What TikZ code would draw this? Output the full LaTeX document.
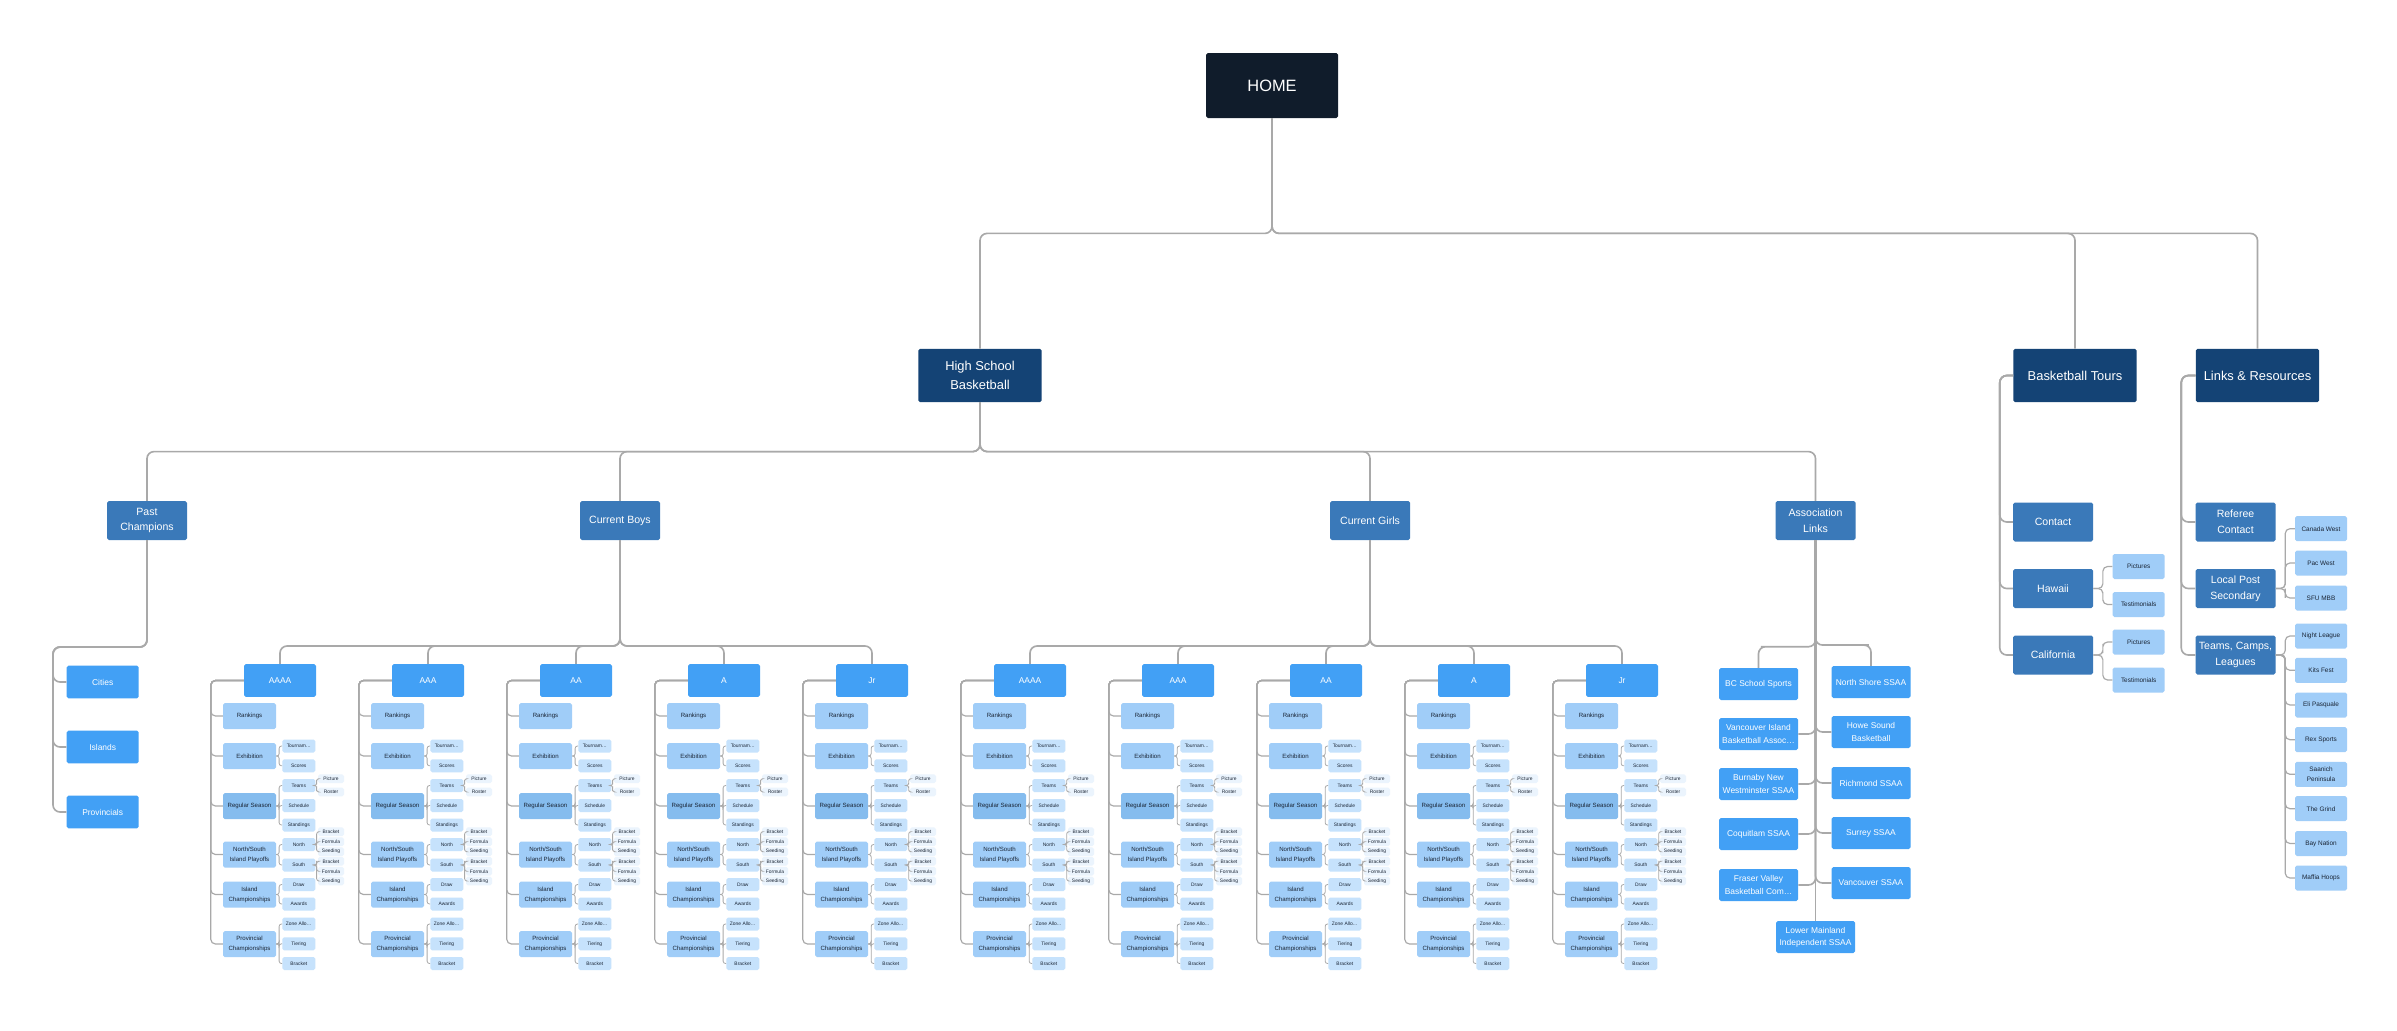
\documentclass[tikz,border=0pt]{standalone}
\usepackage{fontspec}
\setmainfont{Liberation Sans}
\usetikzlibrary{calc}

\definecolor{homec}{HTML}{101C2B}
\definecolor{headc}{HTML}{144375}
\definecolor{branchc}{HTML}{3A79B9}
\definecolor{grpc}{HTML}{42A0F5}
\definecolor{sectc}{HTML}{A0CDF8}
\definecolor{regc}{HTML}{85BCEE}
\definecolor{leafc}{HTML}{C6E2FC}
\definecolor{subleafc}{HTML}{EBF4FD}
\definecolor{inkc}{HTML}{1B2636}
\definecolor{linkc}{HTML}{A9A9A9}

\tikzset{
  box/.style={rectangle, rounded corners=1.5pt, inner sep=0pt, align=center},
  home/.style={box, fill=homec, text=white, minimum width=39.6mm, minimum height=19.5mm, font=\fontsize{14}{16}\selectfont},
  head/.style={box, fill=headc, text=white, minimum width=37mm, minimum height=16mm, font=\fontsize{11}{16}\selectfont},
  branch/.style={box, fill=branchc, text=white, minimum width=24mm, minimum height=11.7mm, font=\fontsize{9}{13.3}\selectfont},
  grp/.style={box, fill=grpc, text=white, minimum width=21.6mm, minimum height=9.8mm, font=\fontsize{7.2}{10.5}\selectfont},
  assocbox/.style={grp, minimum width=23.7mm, minimum height=9.6mm},
  sect/.style={box, fill=sectc, text=inkc, minimum width=15.9mm, minimum height=7.8mm, font=\fontsize{5.2}{8.5}\selectfont},
  leaf/.style={box, fill=leafc, text=inkc, minimum width=9.9mm, minimum height=3.9mm, font=\fontsize{4.2}{5}\selectfont},
  subleaf/.style={box, fill=subleafc, text=inkc, minimum width=7.8mm, minimum height=2.6mm, font=\fontsize{4.2}{5}\selectfont},
  side/.style={box, fill=sectc, text=inkc, minimum width=15.6mm, minimum height=7.5mm, font=\fontsize{5.5}{8.2}\selectfont},
  link/.style={draw=linkc, line width=1.4pt, rounded corners=6pt},
  sublink/.style={draw=linkc, line width=1pt, rounded corners=4pt},
  bracelink/.style={draw=linkc, line width=.7pt, rounded corners=2pt},
  vtree/.style={to path={|- ($(\tikztostart)!#1!(\tikztotarget)$) -| (\tikztotarget)}},
  vtree/.default=.5,
  spine/.style={to path={-| ($(\tikztotarget)+(-#1,0)$) -- (\tikztotarget)}},
  bracepath/.style={to path={-| ($(\tikztostart)!.5!(\tikztotarget)$) |- (\tikztotarget)}},
}

\begin{document}
\begin{tikzpicture}[x=0.3mm,y=-0.3mm]
\fill[white] (0,0) rectangle (2397,1030);

% top levels
\node[home] (home) at (1272,85.5) {HOME};
\node[head] (hsb) at (980,375.5) {High School\\Basketball};
\node[head] (tours) at (2075,375.5) {Basketball Tours};
\node[head] (links) at (2257.5,375.5) {Links \& Resources};
\foreach \n in {hsb,tours,links} \draw[link] (home.south) to[vtree] (\n.north);

\node[branch] (past) at (147,520.5) {Past\\Champions};
\node[branch] (boys) at (620,520.5) {Current Boys};
\node[branch] (girls) at (1370,520.5) {Current Girls};
\node[branch] (assoc) at (1815.5,520.5) {Association\\Links};
\foreach \n in {past,boys,girls,assoc} \draw[link] (hsb.south) to[vtree] (\n.north);

% past champions
\node[grp] (cities) at (102.7,682) {Cities};
\node[grp] (islands) at (102.7,747) {Islands};
\node[grp] (provs) at (102.7,812) {Provincials};
\foreach \n in {cities,islands,provs} \draw[link] (past.south) |- (53,647) |- (\n.west);

% boys and girls divisions
\foreach \g/\gx/\lab in {bAAAA/280/AAAA, bAAA/428/AAA, bAA/576/AA, bA/724/A, bJr/872/Jr,
                         gAAAA/1030/AAAA, gAAA/1178/AAA, gAA/1326/AA, gA/1474/A, gJr/1622/Jr}{
  \node[grp] (\g) at (\gx,680.5) {\lab};
  \node[sect] (\g-rk) at (\gx-30.5,716) {Rankings};
  \node[sect] (\g-ex) at (\gx-30.5,756) {Exhibition};
  \node[sect, fill=regc] (\g-rs) at (\gx-30.5,806) {Regular Season};
  \node[sect] (\g-po) at (\gx-30.5,854.5) {North/South\\Island Playoffs};
  \node[sect] (\g-ic) at (\gx-30.5,894.5) {Island\\Championships};
  \node[sect] (\g-pc) at (\gx-30.5,944) {Provincial\\Championships};
  \foreach \s in {rk,ex,rs,po,ic,pc} \draw[sublink] (\g.west) to[spine=12] (\g-\s.west);
  \node[leaf] (\g-tn) at (\gx+18.8,746) {Tournam…};
  \node[leaf] (\g-sc) at (\gx+18.8,765.8) {Scores};
  \node[leaf] (\g-tm) at (\gx+18.8,785.5) {Teams};
  \node[leaf] (\g-sd) at (\gx+18.8,805.5) {Schedule};
  \node[leaf] (\g-st) at (\gx+18.8,825) {Standings};
  \node[leaf] (\g-no) at (\gx+18.8,844.5) {North};
  \node[leaf] (\g-so) at (\gx+18.8,865) {South};
  \node[leaf] (\g-dr) at (\gx+18.8,884.5) {Draw};
  \node[leaf] (\g-aw) at (\gx+18.8,904) {Awards};
  \node[leaf] (\g-za) at (\gx+18.8,924) {Zone Allo…};
  \node[leaf] (\g-ti) at (\gx+18.8,943.8) {Tiering};
  \node[leaf] (\g-br) at (\gx+18.8,963.5) {Bracket};
  \foreach \p/\c in {ex/tn,ex/sc,rs/tm,rs/sd,rs/st,po/no,po/so,ic/dr,ic/aw,pc/za,pc/ti,pc/br}
    \draw[bracelink] (\g-\p.east) to[bracepath] (\g-\c.west);
  \node[subleaf] (\g-pi) at (\gx+51,778.7) {Picture};
  \node[subleaf] (\g-ro) at (\gx+51,792) {Roster};
  \node[subleaf] (\g-nb) at (\gx+51,831.7) {Bracket};
  \node[subleaf] (\g-nf) at (\gx+51,841.7) {Formula};
  \node[subleaf] (\g-ns) at (\gx+51,851.7) {Seeding};
  \node[subleaf] (\g-sb) at (\gx+51,861.3) {Bracket};
  \node[subleaf] (\g-sf) at (\gx+51,871.3) {Formula};
  \node[subleaf] (\g-ss) at (\gx+51,881) {Seeding};
  \foreach \p/\c in {tm/pi,tm/ro,no/nb,no/nf,no/ns,so/sb,so/sf,so/ss}
    \draw[bracelink] (\g-\p.east) to[bracepath] (\g-\c.west);
}
\foreach \g in {bAAAA,bAAA,bAA,bA,bJr} \draw[link] (boys.south) to[vtree=.855] (\g.north);
\foreach \g in {gAAAA,gAAA,gAA,gA,gJr} \draw[link] (girls.south) to[vtree=.855] (\g.north);

% association links
\node[assocbox] (bcss) at (1758.5,684) {BC School Sports};
\node[assocbox] (nsh) at (1871,682) {North Shore SSAA};
\node[assocbox] (vib) at (1758.5,734) {Vancouver Island\\Basketball Assoc…};
\node[assocbox] (hsd) at (1871,732) {Howe Sound\\Basketball};
\node[assocbox] (bnw) at (1758.5,784) {Burnaby New\\Westminster SSAA};
\node[assocbox] (rich) at (1871,783) {Richmond SSAA};
\node[assocbox] (coq) at (1758.5,834) {Coquitlam SSAA};
\node[assocbox] (sur) at (1871,833) {Surrey SSAA};
\node[assocbox] (fvb) at (1758.5,885) {Fraser Valley\\Basketball Com…};
\node[assocbox] (van) at (1871,883) {Vancouver SSAA};
\node[assocbox] (lmi) at (1815.5,937) {Lower Mainland\\Independent SSAA};
\foreach \n in {bcss,nsh} \draw[link] (assoc.south) to[vtree=.835] (\n.north);
\foreach \n in {vib,bnw,coq,fvb} \draw[link] (assoc.south) |- (\n.east);
\foreach \n in {hsd,rich,sur,van} \draw[link] (assoc.south) |- (\n.west);
\draw[link] (assoc.south) -- (lmi.north);

% basketball tours
\node[branch] (contact) at (2053,522) {Contact};
\node[branch] (hawaii) at (2053,588.5) {Hawaii};
\node[branch] (calif) at (2053,655) {California};
\foreach \n in {contact,hawaii,calif} \draw[link] (tours.west) to[spine=13] (\n.west);
\node[side] (hpic) at (2138.7,566.5) {Pictures};
\node[side] (htest) at (2138.7,604.5) {Testimonials};
\node[side] (cpic) at (2138.7,642) {Pictures};
\node[side] (ctest) at (2138.7,680) {Testimonials};
\foreach \n in {hpic,htest} \draw[sublink] (hawaii.east) to[bracepath] (\n.west);
\foreach \n in {cpic,ctest} \draw[sublink] (calif.east) to[bracepath] (\n.west);

% links and resources
\node[branch] (refc) at (2235.5,522) {Referee\\Contact};
\node[branch] (lps) at (2235.5,588.5) {Local Post\\Secondary};
\node[branch] (tcl) at (2235.5,655) {Teams, Camps,\\Leagues};
\foreach \n in {refc,lps,tcl} \draw[link] (links.west) to[spine=14] (\n.west);
\node[side] (cw) at (2321,528.7) {Canada West};
\node[side] (pw) at (2321,563) {Pac West};
\node[side] (sfu) at (2321,598) {SFU MBB};
\foreach \n in {cw,pw,sfu} \draw[sublink] (lps.east) to[bracepath] (\n.west);
\node[side] (nl) at (2321,636) {Night League};
\node[side] (kf) at (2321,670.3) {Kits Fest};
\node[side] (ep) at (2321,705) {Eli Pasquale};
\node[side] (rex) at (2321,739.7) {Rex Sports};
\node[side] (sp) at (2321,774.3) {Saanich\\Peninsula};
\node[side] (grind) at (2321,808.7) {The Grind};
\node[side] (bay) at (2321,843.5) {Bay Nation};
\node[side] (maffia) at (2321,878) {Maffia Hoops};
\foreach \n in {nl,kf,ep,rex,sp,grind,bay,maffia} \draw[sublink] (tcl.east) to[bracepath] (\n.west);
\end{tikzpicture}
\end{document}
